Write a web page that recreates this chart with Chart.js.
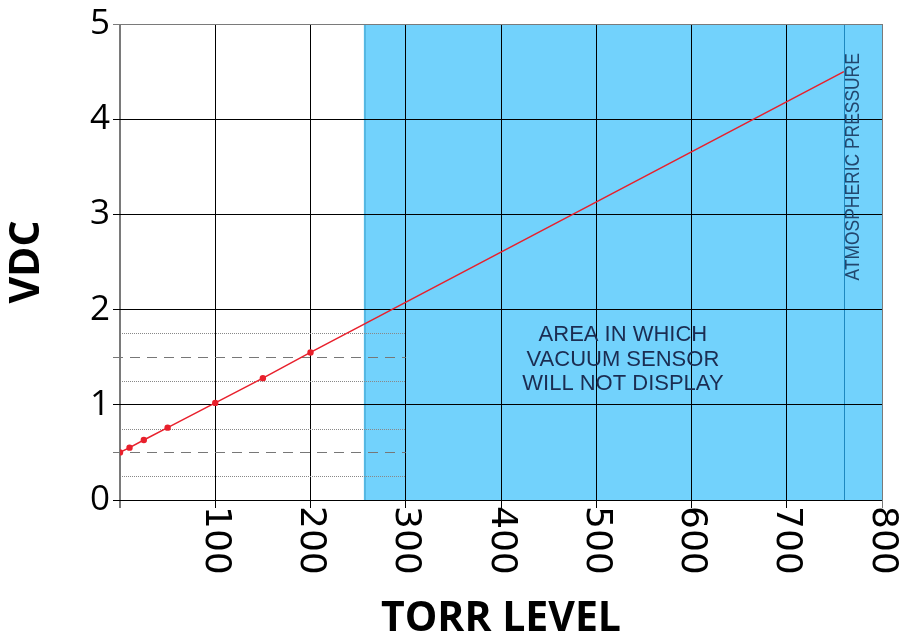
<!DOCTYPE html>
<html><head><meta charset="utf-8">
<script src="https://cdn.jsdelivr.net/npm/chart.js@4/dist/chart.umd.min.js"></script>
<style>html,body{margin:0;padding:0;background:#fff;overflow:hidden}#wrap{width:902px;height:637px;position:relative}</style>
</head><body><div id="wrap"><canvas id="c" width="902" height="637"></canvas></div>
<script>
// ---- data ----
const torrPoints = [0, 10, 25, 50, 100, 150, 200, 760];
const vdcPoints = [0.50, 0.55, 0.63, 0.76, 1.02, 1.28, 1.55, 4.50];
const markerShown = [true, true, true, true, true, true, true, false];
const xTickValues = [100, 200, 300, 400, 500, 600, 700, 800];
const xTickLabels = ['100', '200', '300', '400', '500', '600', '700', '800'];
const yTickValues = [0, 1, 2, 3, 4, 5];
const noDisplayRange = [256, 800];
const atmosphericTorr = 760;
const dashedLevels = [0.5, 1.5];
const dottedLevels = [0.25, 0.75, 1.25, 1.75];
const refLineEndTorr = 300;
const areaTextLines = ['AREA IN WHICH', 'VACUUM SENSOR', 'WILL NOT DISPLAY'];
const areaTextAt = [528, 1.475];
const atmText = 'ATMOSPHERIC PRESSURE';
const atmTextCenterV = 3.5;

const RED = '#e8202c';
const GRAY = '#7a7a7a';

const overlay = {
  id: 'overlay',
  beforeDraw(chart) {
    const {ctx, chartArea: {top, bottom}, scales: {x}} = chart;
    const x0 = x.getPixelForValue(noDisplayRange[0]);
    const x1 = x.getPixelForValue(noDisplayRange[1]);
    ctx.save();
    ctx.fillStyle = '#72d2fc';
    ctx.fillRect(x0, top, x1 - x0, bottom - top);
    ctx.fillStyle = '#55b8e3';
    ctx.fillRect(Math.round(x0), top, 2, bottom - top);
    const xa = Math.round(x.getPixelForValue(atmosphericTorr)) + 0.5;
    ctx.strokeStyle = '#1e88bf';
    ctx.lineWidth = 1;
    ctx.beginPath(); ctx.moveTo(xa, top); ctx.lineTo(xa, bottom); ctx.stroke();
    ctx.restore();
  },
  beforeDatasetsDraw(chart) {
    const {ctx, scales: {x, y}} = chart;
    const xe = x.getPixelForValue(refLineEndTorr);
    ctx.save();
    ctx.lineWidth = 1;
    ctx.strokeStyle = '#777';
    ctx.setLineDash([10, 7]);
    dashedLevels.forEach(v => {
      const py = Math.round(y.getPixelForValue(v)) + 0.5;
      ctx.beginPath(); ctx.moveTo(x.left - 7, py); ctx.lineTo(xe, py); ctx.stroke();
    });
    ctx.strokeStyle = '#888';
    ctx.setLineDash([1, 1]);
    dottedLevels.forEach(v => {
      const py = Math.round(y.getPixelForValue(v)) + 0.5;
      ctx.beginPath(); ctx.moveTo(x.left + 2, py); ctx.lineTo(xe, py); ctx.stroke();
    });
    ctx.restore();
  },
  afterDraw(chart) {
    const {ctx, scales: {x, y}} = chart;
    ctx.save();
    // x tick labels, rotated clockwise
    ctx.fillStyle = '#000';
    ctx.font = '36px "DejaVu Sans"';
    ctx.textAlign = 'left';
    ctx.textBaseline = 'middle';
    xTickValues.forEach((v, i) => {
      ctx.save();
      ctx.translate(x.getPixelForValue(v), y.bottom + 6);
      ctx.rotate(Math.PI / 2);
      ctx.fillText(xTickLabels[i], 0, 0);
      ctx.restore();
    });
    // area text
    ctx.fillStyle = '#1b2d52';
    ctx.font = '22px "Liberation Sans", Arial, sans-serif';
    ctx.textAlign = 'center';
    const cx = x.getPixelForValue(areaTextAt[0]);
    const cy = y.getPixelForValue(areaTextAt[1]);
    const lh = 24.5;
    areaTextLines.forEach((t, i) => {
      ctx.fillText(t, cx, cy + (i - 1) * lh);
    });
    // atmospheric pressure text
    ctx.save();
    ctx.fillStyle = '#22476e';
    ctx.font = '21px "Liberation Sans", Arial, sans-serif';
    ctx.translate(x.getPixelForValue(atmosphericTorr) + 9, y.getPixelForValue(atmTextCenterV));
    ctx.rotate(-Math.PI / 2);
    ctx.scale(0.83, 1);
    ctx.textAlign = 'center';
    ctx.textBaseline = 'middle';
    ctx.fillText(atmText, 0, 0);
    ctx.restore();
    ctx.restore();
  }
};

new Chart(document.getElementById('c'), {
  type: 'scatter',
  data: {
    datasets: [{
      data: torrPoints.map((t, i) => ({x: t, y: vdcPoints[i]})),
      showLine: true,
      borderColor: RED,
      backgroundColor: RED,
      borderWidth: 1.5,
      pointRadius: markerShown.map(s => s ? 3.2 : 0),
      pointBorderWidth: 0,
      pointBackgroundColor: RED,
      tension: 0
    }]
  },
  options: {
    responsive: false,
    animation: false,
    devicePixelRatio: 1,
    layout: {padding: {top: 22, right: 20, left: 0, bottom: 0}},
    plugins: {legend: {display: false}, tooltip: {enabled: false}},
    scales: {
      x: {
        type: 'linear', min: 0, max: 800,
        ticks: {display: false, stepSize: 100},
        border: {display: false},
        grid: {
          color: c => (c.tick && (c.tick.value === 0 || c.tick.value === 800)) ? GRAY : '#000',
          tickColor: c => (c.tick && (c.tick.value === 0 || c.tick.value === 800)) ? GRAY : '#000',
          lineWidth: c => (c.tick && c.tick.value === 0) ? 2 : 1,
          tickLength: 8
        },
        title: {
          display: true, text: 'TORR LEVEL', color: '#000',
          font: {family: 'Open Sans', size: 41, weight: 'bold', lineHeight: 0.86},
          padding: {top: 0, bottom: 0}
        },
        afterFit: s => { s.height = 137; }
      },
      y: {
        type: 'linear', min: 0, max: 5,
        afterBuildTicks: s => { s.ticks = yTickValues.map(v => ({value: v})); },
        ticks: {color: '#000', padding: 3, font: {family: 'Open Sans', size: 35}},
        border: {display: false},
        grid: {
          color: c => (c.tick && c.tick.value === 5) ? GRAY : '#000',
          tickColor: c => (c.tick && c.tick.value === 5) ? GRAY : '#000',
          tickLength: 7
        },
        title: {
          display: true, text: 'VDC', color: '#000',
          font: {family: 'Open Sans', size: 41, weight: 'bold', lineHeight: 1},
          padding: {top: 6.5, bottom: 0}
        },
        afterFit: s => { s.width = 120; }
      }
    }
  },
  plugins: [overlay]
});
</script>
</body></html>
